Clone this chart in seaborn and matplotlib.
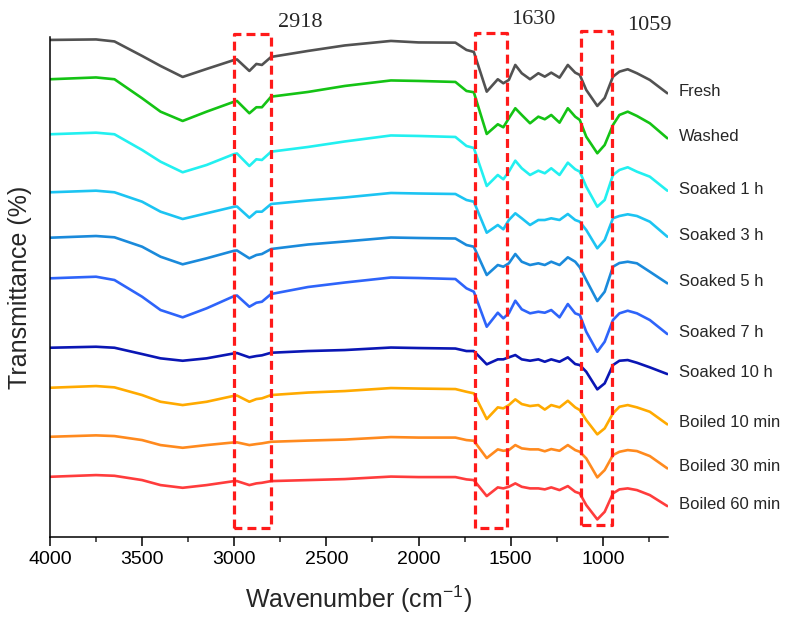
import numpy as np
import pandas as pd
import matplotlib.pyplot as plt
import seaborn as sns
from matplotlib.ticker import MultipleLocator

# ---------------------------------------------------------
# Dati (spettri sfalsati, unita' arbitrarie,
# misurati dall'alto verso il basso)
# ---------------------------------------------------------
WAVENUMBER = [4000, 3750, 3650, 3500, 3400, 3280, 3150, 3000, 2985, 2918,
              2880, 2850, 2800, 2600, 2400, 2150, 2000, 1800, 1740, 1700,
              1630, 1570, 1540, 1510, 1475, 1440, 1395, 1350, 1315, 1280,
              1235, 1190, 1150, 1125, 1090, 1030, 990, 945, 910, 865,
              815, 745, 650]

fresh = [40, 39.5, 41.5, 56, 66, 77, 69, 60, 59.5, 71,
         64, 65, 57, 51, 45.5, 41, 42.5, 42.7, 50, 52,
         91.7, 79.3, 83.3, 80, 65, 73.3, 79.3, 73.3, 76.7, 72.7,
         77.7, 65, 72.7, 75, 90, 106, 98, 76.7, 71.7, 69.3,
         73.3, 80, 93.3]
washed = [79.3, 77.5, 79.3, 98.3, 111.7, 121, 111.7, 101.7, 101, 113.3,
          107.3, 107.3, 96.7, 92, 86, 80.5, 81, 82, 91, 92.3,
          134, 124.3, 127.3, 118.3, 108.3, 115, 123.3, 116.7, 119.3, 115,
          122.7, 108.3, 116.7, 120, 136.7, 153.3, 145, 125, 115, 111.7,
          116, 123.3, 138.3]
soaked_1h = [134.3, 132.7, 134.3, 150, 161.7, 172.3, 165, 154, 153.5, 166,
             159.3, 160, 151.7, 147, 141.5, 135.5, 136, 137, 146, 148,
             186, 175, 179.3, 171.7, 160.7, 168.3, 175, 170.7, 173.3, 168.3,
             175, 162.7, 169.3, 171.7, 186.7, 206.7, 200, 175, 170, 167.3,
             171.7, 176.7, 190.7]
soaked_3h = [192.3, 190.7, 192.3, 201.7, 211.7, 219, 213.3, 206.7, 206.5, 217.7,
             211.7, 211.7, 204, 200.5, 197.5, 193, 193.5, 194, 200, 201.7,
             232.7, 225, 229.3, 220, 213.3, 218.3, 225, 220, 220, 218.3,
             220, 214, 220, 221.7, 230, 248.3, 240, 218.3, 216, 214.3,
             216, 221.7, 236.7]
soaked_5h = [237.7, 236, 237.3, 246.7, 256.7, 264.3, 258.3, 250.7, 250.5, 258.3,
             255, 254, 249, 244.5, 241.5, 237.5, 238, 238.5, 245, 246.7,
             275, 265, 266.7, 263.3, 254, 261.7, 265, 263.3, 265, 261.7,
             265, 257.3, 261.7, 267.3, 280, 301, 291.7, 266.7, 263, 261.7,
             263.3, 271.7, 283.3]
soaked_7h = [278.3, 276.7, 280, 296.7, 310, 317.3, 308.3, 296, 295.5, 306.7,
             302.7, 301.7, 294, 287, 282.5, 277.5, 278, 279, 288.3, 291.7,
             326.7, 312.7, 318.3, 313.3, 300.7, 309.3, 313.3, 311.7, 312.7, 310,
             317.3, 304, 313.3, 315, 331.7, 351.7, 341.7, 320, 313.3, 310.7,
             313.3, 320, 334]
soaked_10h = [347.7, 346.7, 347.7, 354, 358.3, 360.7, 358.3, 353.3, 353, 357.3,
              356, 355.3, 352.7, 351, 350, 347.5, 348, 348.5, 351, 351,
              364.3, 359.3, 359.3, 357.3, 355, 359.3, 360.7, 359.3, 361.7, 359.3,
              361.7, 357.3, 364, 365, 371.7, 389.3, 383.3, 365, 360.7, 360,
              362.7, 367.3, 374]
boiled_10 = [387.7, 386, 387.3, 395, 401.7, 405, 401.7, 395.7, 395.5, 401.7,
             399, 398.3, 395, 392.5, 391, 388, 388.5, 389, 391.7, 393.3,
             419, 407.3, 408.3, 405, 399.3, 404, 406, 405, 409.5, 405,
             407.3, 400.7, 407.3, 410, 420, 434.3, 428.3, 413.3, 406.7, 405,
             407.3, 411.7, 424.3]
boiled_30 = [436.7, 435.3, 436, 440, 445, 447.7, 445, 442.3, 442.3, 445,
             444, 443.3, 441.7, 440.5, 439.5, 437, 437.5, 437.5, 440, 440.7,
             458, 449.3, 450.7, 450, 445, 448.3, 449.3, 449.3, 451.2, 449,
             450.7, 445, 450, 451.7, 458.3, 477.3, 470, 455, 451.7, 450,
             451, 456, 468.3]
boiled_60 = [476.7, 475, 475.7, 480, 485, 487.7, 485, 481, 481, 485,
             483.3, 482.7, 481, 480, 479, 476.5, 477, 477, 479.3, 480,
             496, 487.3, 488.3, 486.7, 483.3, 486.7, 488.3, 488.3, 489.3, 487.3,
             490, 486, 491.7, 493.3, 505, 519.3, 511.7, 493.3, 489.3, 488.3,
             490, 495, 506]

SAMPLES = ['Fresh', 'Washed', 'Soaked 1 h', 'Soaked 3 h', 'Soaked 5 h',
           'Soaked 7 h', 'Soaked 10 h', 'Boiled 10 min', 'Boiled 30 min',
           'Boiled 60 min']
SERIES = [fresh, washed, soaked_1h, soaked_3h, soaked_5h,
          soaked_7h, soaked_10h, boiled_10, boiled_30, boiled_60]
COLORS = ['#525252', '#14C314', '#22F0F0', '#1CC4F2', '#1A8ADB',
          '#2E64FA', '#0A16B4', '#FFAA00', '#FF8A1E', '#FF3C3C']

# Bande evidenziate (finestre tratteggiate) ed etichette
BAND_WINDOWS = [(3000, 2800), (1695, 1520), (1120, 950)]
BAND_LABELS = ['2918', '1630', '1059']
BAND_LABEL_X = [2644, 1380, 745]

TOP = 540  # riferimento per convertire in trasmittanza crescente verso l'alto

# ---------------------------------------------------------
# DataFrame long-format
# ---------------------------------------------------------
rows = []
for name, vals in zip(SAMPLES, SERIES):
    for wn, v in zip(WAVENUMBER, vals):
        rows.append({'Wavenumber': wn, 'T': TOP - v, 'Sample': name})
df = pd.DataFrame(rows)

# ---------------------------------------------------------
# Stile
# ---------------------------------------------------------
sns.set_style("ticks")
plt.rcParams['font.family'] = ['Liberation Sans', 'DejaVu Sans']
plt.rcParams['mathtext.default'] = 'regular'

fig = plt.figure(figsize=(7.93, 6.26), dpi=100)
ax = fig.add_axes([0.063, 0.142, 0.779, 0.799])

sns.lineplot(data=df, x='Wavenumber', y='T', hue='Sample', hue_order=SAMPLES,
             palette=dict(zip(SAMPLES, COLORS)), sort=False, linewidth=1.9,
             ax=ax, legend=False)

ax.set_xlim(4000, 648)
ax.set_ylim(3, 503)
ax.set_yticks([])
ax.xaxis.set_major_locator(MultipleLocator(500))
ax.xaxis.set_minor_locator(MultipleLocator(250))
ax.tick_params(axis='x', which='major', direction='out', length=6.5, width=1.1,
               labelsize=14, pad=3.5, colors='black')
ax.tick_params(axis='x', which='minor', direction='out', length=3.5, width=1.1)
for side in ['top', 'right']:
    ax.spines[side].set_visible(False)
for side in ['left', 'bottom']:
    ax.spines[side].set_linewidth(1.1)
    ax.spines[side].set_color('black')

ax.set_xlabel('Wavenumber (cm$^{-1}$)', fontsize=18, labelpad=11)
ax.set_ylabel('Transmittance (%)', fontsize=18, labelpad=13)

# Etichette dei campioni a destra, all'altezza dell'ultimo punto
for name, vals in zip(SAMPLES, SERIES):
    ax.text(1.018, TOP - vals[-1] + 1.5, name, transform=ax.get_yaxis_transform(),
            fontsize=12, va='center', ha='left', clip_on=False)

# Finestre tratteggiate rosse
box_tops = [506, 506.5, 508.5]
box_bottoms = [12, 12.5, 15]
for (x1, x2), yt, yb in zip(BAND_WINDOWS, box_tops, box_bottoms):
    ax.plot([x1, x1, x2, x2, x1], [yb, yt, yt, yb, yb], color='#FF1A1A',
            linestyle=(0, (2.8, 1.6)), linewidth=2.3, clip_on=False, zorder=5)

label_y = [517, 520, 514.5]
for lab, lx, ly in zip(BAND_LABELS, BAND_LABEL_X, label_y):
    ax.text(lx, ly, lab, fontsize=16, family='Liberation Serif', ha='center',
            va='center', clip_on=False)

fig.savefig('out.png', dpi=100)
